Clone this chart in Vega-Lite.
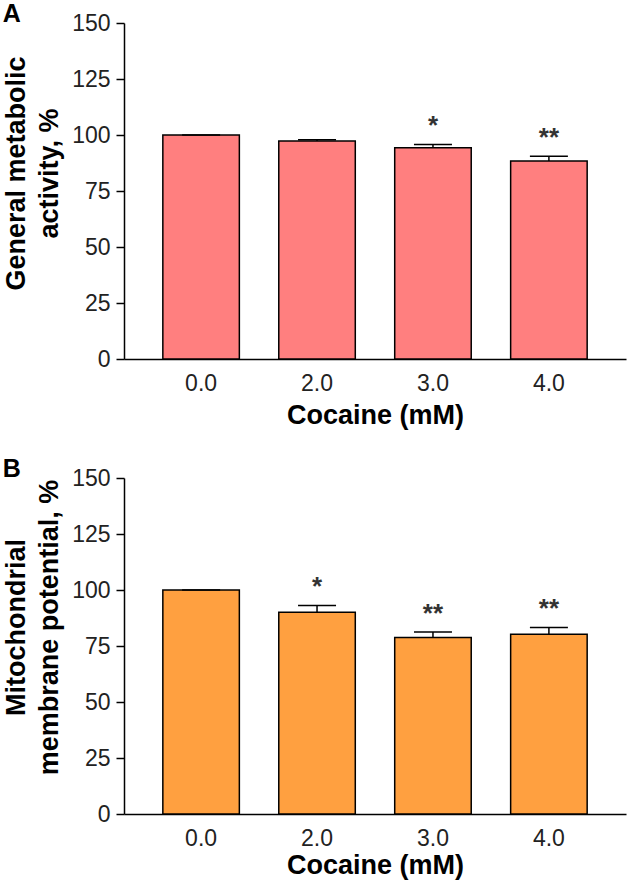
{
  "$schema": "https://vega.github.io/schema/vega-lite/v6.json",
  "background": "white",
  "padding": {"top": 2, "left": 2, "right": 5, "bottom": 2},
  "spacing": 29,
  "config": {
    "font": "Liberation Sans",
    "view": {"stroke": null},
    "axis": {
      "grid": false,
      "domainColor": "#000",
      "domainWidth": 1.5,
      "tickColor": "#000",
      "tickWidth": 1.5,
      "labelColor": "#222",
      "titleColor": "#000",
      "labelFont": "Liberation Sans",
      "titleFont": "Liberation Sans",
      "titleFontWeight": "bold",
      "labelFontSize": 23,
      "titleFontSize": 27
    },
    "title": {"anchor": "start", "frame": "bounds", "fontSize": 25, "fontWeight": "bold", "color": "#000", "offset": -15, "font": "Liberation Sans"}
  },
  "vconcat": [
    {
      "width": 502,
      "height": 336,
      "title": {"text": "A"},
      "data": {"values": [
        {"dose": "0.0", "mean": 100, "upper": 100, "sig": ""},
        {"dose": "2.0", "mean": 97.3, "upper": 97.9, "sig": ""},
        {"dose": "3.0", "mean": 94.3, "upper": 95.8, "sig": "*"},
        {"dose": "4.0", "mean": 88.4, "upper": 90.5, "sig": "**"}
      ]},
      "encoding": {
        "x": {"field": "dose", "type": "ordinal", "sort": null,
          "scale": {"paddingInner": 0.34, "paddingOuter": 0.335},
          "axis": {"title": "Cocaine (mM)", "labelAngle": 0, "ticks": false, "tickSize": 0, "labelPadding": 13, "titlePadding": 7}}
      },
      "layer": [
        {"mark": {"type": "bar", "fill": "#FF7F7F", "stroke": "#000", "strokeWidth": 1.5},
         "encoding": {"y": {"field": "mean", "type": "quantitative", "scale": {"domain": [0, 150], "nice": false},
           "axis": {"title": ["General metabolic", "activity, %"], "values": [0, 25, 50, 75, 100, 125, 150], "tickSize": 8, "labelPadding": 6, "titleLineHeight": 33, "titlePadding": 8, "titleY": 150}}}},
        {"mark": {"type": "rule", "stroke": "#000", "strokeWidth": 1.5},
         "encoding": {"y": {"field": "mean", "type": "quantitative"}, "y2": {"field": "upper"}}},
        {"mark": {"type": "tick", "color": "#000", "opacity": 1, "thickness": 1.5, "size": 38},
         "encoding": {"y": {"field": "upper", "type": "quantitative"}}},
        {"mark": {"type": "text", "fontSize": 26, "fontWeight": "bold", "baseline": "alphabetic", "dy": -10, "color": "#333"},
         "encoding": {"y": {"field": "upper", "type": "quantitative"}, "text": {"field": "sig"}}}
      ]
    },
    {
      "width": 502,
      "height": 336,
      "title": {"text": "B"},
      "data": {"values": [
        {"dose": "0.0", "mean": 100, "upper": 100, "sig": ""},
        {"dose": "2.0", "mean": 90.1, "upper": 93.1, "sig": "*"},
        {"dose": "3.0", "mean": 78.8, "upper": 81.2, "sig": "**"},
        {"dose": "4.0", "mean": 80.3, "upper": 83.3, "sig": "**"}
      ]},
      "encoding": {
        "x": {"field": "dose", "type": "ordinal", "sort": null,
          "scale": {"paddingInner": 0.34, "paddingOuter": 0.335},
          "axis": {"title": "Cocaine (mM)", "labelAngle": 0, "ticks": false, "tickSize": 0, "labelPadding": 13, "titlePadding": 2}}
      },
      "layer": [
        {"mark": {"type": "bar", "fill": "#FFA040", "stroke": "#000", "strokeWidth": 1.5},
         "encoding": {"y": {"field": "mean", "type": "quantitative", "scale": {"domain": [0, 150], "nice": false},
           "axis": {"title": ["Mitochondrial", "membrane potential, %"], "values": [0, 25, 50, 75, 100, 125, 150], "tickSize": 8, "labelPadding": 6, "titleLineHeight": 33, "titlePadding": 8, "titleY": 149}}}},
        {"mark": {"type": "rule", "stroke": "#000", "strokeWidth": 1.5},
         "encoding": {"y": {"field": "mean", "type": "quantitative"}, "y2": {"field": "upper"}}},
        {"mark": {"type": "tick", "color": "#000", "opacity": 1, "thickness": 1.5, "size": 38},
         "encoding": {"y": {"field": "upper", "type": "quantitative"}}},
        {"mark": {"type": "text", "fontSize": 26, "fontWeight": "bold", "baseline": "alphabetic", "dy": -10, "color": "#333"},
         "encoding": {"y": {"field": "upper", "type": "quantitative"}, "text": {"field": "sig"}}}
      ]
    }
  ]
}
